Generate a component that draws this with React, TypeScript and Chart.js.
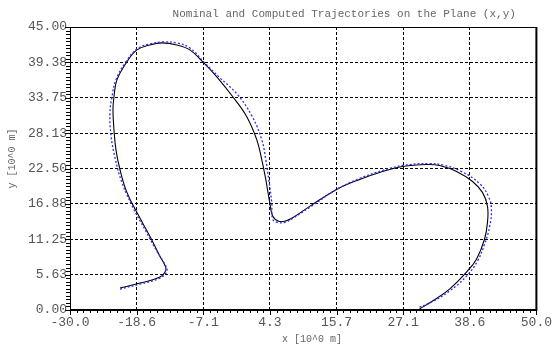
import React, { useEffect, useRef } from "react";
import { Chart, registerables } from "chart.js";

Chart.register(...registerables);

const nominalX = [-21.43, -18.01, -14.58, -13.55, -13.73, -14.58, -16.30, -18.35, -20.24, -21.43, -22.12, -22.46, -22.63, -22.46, -21.95, -20.24, -18.52, -16.30, -14.24, -11.67, -9.44, -7.22, -4.82, -2.08, 0.32, 2.03, 2.89, 3.58, 4.26, 4.78, 5.80, 6.83, 8.03, 11.11, 15.74, 19.68, 23.62, 27.05, 31.16, 33.39, 36.30, 39.04, 40.75, 41.61, 41.61, 41.10, 39.72, 38.01, 35.10, 32.19, 29.96];
const nominalY = [3.49, 4.28, 5.23, 6.34, 7.13, 8.56, 11.73, 15.21, 18.70, 22.34, 25.51, 28.68, 31.85, 33.91, 36.60, 39.45, 41.36, 42.15, 42.47, 42.15, 41.36, 39.45, 37.08, 33.91, 30.74, 27.10, 23.93, 20.76, 17.11, 14.89, 14.10, 14.10, 14.58, 16.48, 19.17, 20.76, 22.03, 22.82, 23.14, 22.98, 22.03, 20.44, 18.70, 16.48, 13.94, 11.25, 8.08, 6.02, 3.33, 1.43, 0.16];

const computedX = [-21.43, -18.01, -14.58, -13.38, -13.73, -14.92, -16.98, -19.21, -21.09, -22.29, -22.98, -23.15, -22.80, -22.12, -20.41, -18.52, -16.30, -14.07, -11.67, -9.44, -7.05, -4.48, -1.39, 1.18, 2.89, 3.58, 4.09, 4.60, 4.78, 5.63, 6.83, 8.20, 11.11, 15.74, 19.68, 23.62, 27.05, 31.67, 34.24, 37.15, 40.24, 41.78, 42.29, 41.95, 41.10, 39.89, 38.01, 35.10, 32.02, 29.62];
const computedY = [3.33, 4.12, 5.07, 6.18, 7.29, 9.03, 12.52, 16.32, 20.28, 24.24, 27.89, 31.37, 33.91, 36.60, 39.45, 41.51, 42.31, 42.62, 42.47, 41.67, 39.45, 37.08, 34.38, 30.90, 27.10, 23.93, 20.76, 17.11, 14.42, 13.94, 13.94, 14.58, 16.32, 19.17, 20.92, 22.18, 22.98, 23.29, 22.98, 22.03, 20.12, 18.06, 16.00, 13.15, 10.46, 7.76, 5.39, 3.01, 1.27, 0.32];

const xTickValues = [-30, -18.5714, -7.1429, 4.2857, 15.7143, 27.1429, 38.5714, 50];
const xTickLabels = ["-30.0", "-18.6", "-7.1", "4.3", "15.7", "27.1", "38.6", "50.0"];
const yTickValues = [0, 5.625, 11.25, 16.875, 22.5, 28.125, 33.75, 39.375, 45];
const yTickLabels = ["0.00", "5.63", "11.25", "16.88", "22.50", "28.13", "33.75", "39.38", "45.00"];

const titleText = "Nominal and Computed Trajectories on the Plane (x,y)";
const xTitle = "x [10^0 m]";
const yTitle = "y [10^0 m]";

const MONO = "'Liberation Mono', 'DejaVu Sans Mono', monospace";

const toPoints = (xs: number[], ys: number[]) => xs.map((x, i) => ({ x, y: ys[i] }));

const framePlugin = {
  id: "frameAndText",
  afterDatasetsDraw(chart: any) {
    const { ctx, chartArea } = chart;
    const { left, right, top, bottom } = chartArea;
    const xs = chart.scales.x;
    const ys = chart.scales.y;
    ctx.save();
    // minor + major ticks
    ctx.strokeStyle = "#000";
    ctx.lineWidth = 1;
    const nx = 70;
    for (let i = 0; i <= nx; i++) {
      const v = xs.min + (i * (xs.max - xs.min)) / nx;
      const px = Math.round(xs.getPixelForValue(v)) + 0.5;
      const len = i % 10 === 0 ? 5 : 3;
      ctx.beginPath();
      ctx.moveTo(px, bottom);
      ctx.lineTo(px, bottom + len);
      ctx.stroke();
    }
    const ny = 80;
    for (let i = 0; i <= ny; i++) {
      const v = ys.min + (i * (ys.max - ys.min)) / ny;
      const py = Math.round(ys.getPixelForValue(v)) + 0.5;
      const len = i % 10 === 0 ? 5 : 4;
      ctx.beginPath();
      ctx.moveTo(left, py);
      ctx.lineTo(left - len, py);
      ctx.stroke();
    }
    // frame
    ctx.setLineDash([]);
    ctx.strokeStyle = "#000";
    ctx.lineWidth = 1;
    ctx.beginPath();
    ctx.moveTo(left + 0.5, bottom);
    ctx.lineTo(left + 0.5, top + 0.5);
    ctx.lineTo(right, top + 0.5);
    ctx.stroke();
    ctx.lineWidth = 2;
    ctx.beginPath();
    ctx.moveTo(right, top);
    ctx.lineTo(right, bottom);
    ctx.lineTo(left, bottom);
    ctx.stroke();
    // texts
    ctx.fillStyle = "#666";
    ctx.font = "11px " + MONO;
    ctx.textAlign = "center";
    ctx.textBaseline = "middle";
    ctx.fillText(titleText, left + 0.588 * (right - left), 14);
    ctx.font = "10px " + MONO;
    ctx.fillText(xTitle, left + 0.519 * (right - left), 339);
    ctx.translate(12, top + 0.465 * (bottom - top));
    ctx.rotate(-Math.PI / 2);
    ctx.fillText(yTitle, 0, 0);
    ctx.restore();
  },
};

export default function App() {
  const ref = useRef<HTMLCanvasElement>(null);
  useEffect(() => {
    document.body.style.margin = "0";
    const canvas = ref.current!;
    const chart = new Chart(canvas, {
      type: "scatter",
      data: {
        datasets: [
          {
            label: "Computed",
            data: toPoints(computedX, computedY),
            showLine: true,
            borderColor: "#2a2aff",
            borderWidth: 1.3,
            borderDash: [2, 2],
            pointRadius: 0,
            tension: 0.4,
            fill: false,
          },
          {
            label: "Nominal",
            data: toPoints(nominalX, nominalY),
            showLine: true,
            borderColor: "#000",
            borderWidth: 1.1,
            pointRadius: 0,
            tension: 0.4,
            fill: false,
          },
        ],
      },
      options: {
        animation: false,
        responsive: false,
        devicePixelRatio: 1,
        layout: { padding: { top: 27, right: 20, left: 0, bottom: 0 } },
        plugins: {
          legend: { display: false },
          title: { display: false },
          tooltip: { enabled: false },
        },
        scales: {
          x: {
            type: "linear",
            min: -30,
            max: 50,
            afterBuildTicks: (s: any) => {
              s.ticks = xTickValues.map((v) => ({ value: v }));
            },
            afterFit: (s: any) => {
              s.height = 38;
            },
            ticks: {
              autoSkip: false,
              maxRotation: 0,
              padding: 5,
              color: "#555",
              font: { family: MONO, size: 13 },
              callback: (_v: any, i: number) => xTickLabels[i],
            },
            grid: { color: "#000", lineWidth: 1, drawTicks: false },
            border: { display: false, dash: [3, 2] },
          },
          y: {
            type: "linear",
            min: 0,
            max: 45,
            afterBuildTicks: (s: any) => {
              s.ticks = yTickValues.map((v) => ({ value: v }));
            },
            afterFit: (s: any) => {
              s.width = 70;
            },
            ticks: {
              autoSkip: false,
              padding: 3,
              color: "#555",
              font: { family: MONO, size: 13 },
              callback: (_v: any, i: number) => yTickLabels[i],
            },
            grid: { color: "#000", lineWidth: 1, drawTicks: false },
            border: { display: false, dash: [3, 2] },
          },
        },
      },
      plugins: [framePlugin],
    });
    return () => chart.destroy();
  }, []);
  return (
    <div style={{ position: "absolute", left: 0, top: 0, width: 557, height: 348, background: "#fff" }}>
      <canvas ref={ref} width={557} height={348} />
    </div>
  );
}
